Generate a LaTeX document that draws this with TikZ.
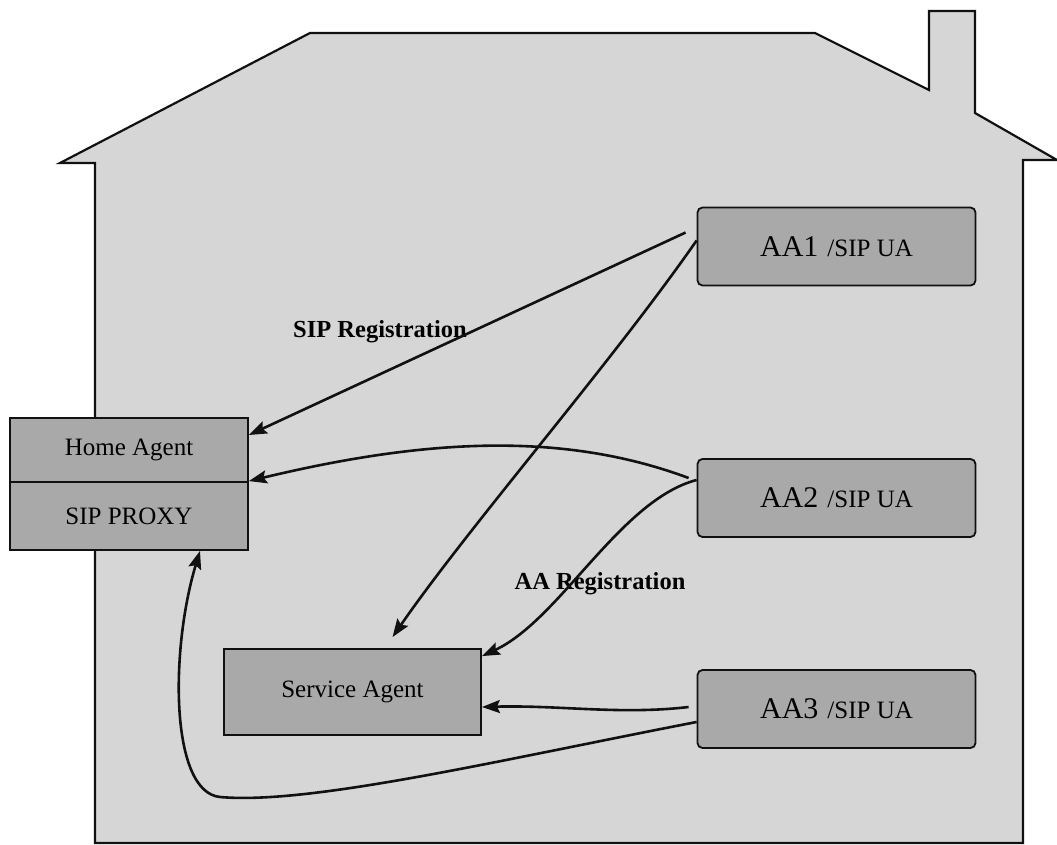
\documentclass[tikz,border=0pt]{standalone}
\usepackage{fontspec}
\setmainfont{Liberation Serif}
\usetikzlibrary{arrows.meta, positioning, calc}
\definecolor{housegray}{HTML}{D6D6D6}
\definecolor{boxgray}{HTML}{A9A9A9}
\definecolor{inkblack}{HTML}{111111}

\tikzset{
  agentbox/.style={draw=inkblack, line width=1.8pt, fill=boxgray, rounded corners=5pt,
    minimum width=278pt, minimum height=78pt, inner sep=0pt},
  plainbox/.style={draw=inkblack, line width=1.8pt, fill=boxgray,
    minimum width=238pt, inner sep=0pt},
  msg/.style={draw=inkblack, line width=2.6pt, ->},
  txt/.style={font=\fontsize{25}{25}\selectfont},
  lbl/.style={font=\fontsize{24.5}{25}\selectfont\bfseries, inner sep=0pt}
}
\newcommand{\uaname}[1]{{\fontsize{30}{30}\selectfont #1}\hspace{9pt}{\fontsize{25}{25}\selectfont /SIP UA}}

\begin{document}
\begin{tikzpicture}[x=1pt, y=-1pt, >={Stealth[length=18pt, width=13pt, inset=3pt]}]
\useasboundingbox (0,0) rectangle (1057,845);

% House outline
\fill[housegray] (95,843) -- (95,163) -- (60,163) -- (310,33) -- (815,33) -- (929,90)
  -- (929,11) -- (975,11) -- (975,113) -- (1057,160) -- (1023,160) -- (1023,843) -- cycle;
\draw[inkblack, line width=2.2pt, line join=miter] (95,843) -- (95,163) -- (60,163) -- (310,33) -- (815,33) -- (929,90)
  -- (929,11) -- (975,11) -- (975,113) -- (1057,160) -- (1023,160) -- (1023,843) -- cycle;

% === Agents on the left ===
\node[plainbox, minimum height=64pt, txt] (home) at (129,450) {Home Agent};
\node[plainbox, minimum height=68pt, txt] (proxy) at (129,516) {SIP PROXY};
\node[plainbox, minimum width=257pt, minimum height=86pt, txt] (service) at (352.5,692) {Service Agent};

% === User agents on the right ===
\node[agentbox] (aa1) at (836.5,246.5) {\uaname{AA1}};
\node[agentbox] (aa2) at (836.5,498) {\uaname{AA2}};
\node[agentbox] (aa3) at (836.5,709) {\uaname{AA3}};

% Labels
\node[lbl] (sipreg) at (380,332) {SIP Registration};
\node[lbl] (aareg) at (600,584) {AA Registration};

% === Messages ===
% AA1
\draw[msg] ([xshift=-11pt, yshift=14pt]aa1.west) -- ([yshift=15pt]home.east);
\draw[msg] ([yshift=6pt]aa1.west) .. controls (610,365) and (470,525) .. ([xshift=40pt, yshift=11pt]service.north);
% AA2
\draw[msg] ([xshift=-8pt, yshift=20pt]aa2.west) .. controls (560,430) and (420,440) .. (proxy.north east);
\draw[msg] ([yshift=18pt]aa2.west) .. controls (620,500) and (560,620) .. ([yshift=-8pt]service.north east);
% AA3
\draw[msg] ([xshift=-8pt, yshift=2pt]aa3.west) .. controls (620,715) and (560,705) .. ([yshift=-15pt]service.east);
\draw[msg] ([yshift=-13pt]aa3.west) .. controls (500,760) and (310,805) .. (220,797)
  .. controls (170,792) and (170,650) .. ([xshift=71pt]proxy.south);

\end{tikzpicture}
\end{document}
